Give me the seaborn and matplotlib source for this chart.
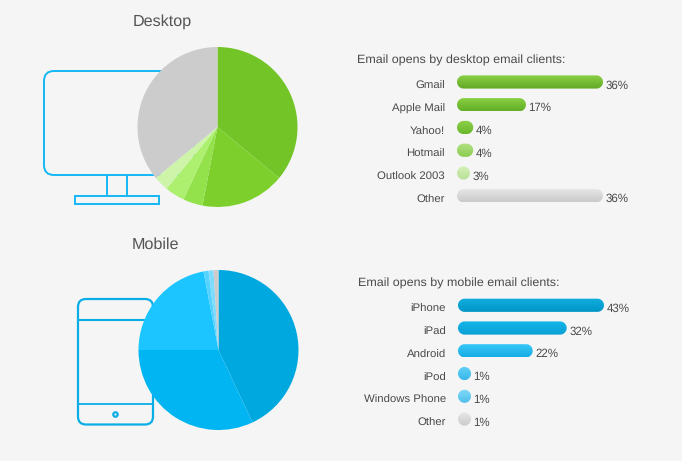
import numpy as np
import pandas as pd
import matplotlib
matplotlib.use("Agg")
import matplotlib.pyplot as plt
from matplotlib.colors import LinearSegmentedColormap
from matplotlib.patches import FancyBboxPatch, Rectangle, Circle, PathPatch
from matplotlib.path import Path
from matplotlib.transforms import ScaledTranslation
import seaborn as sns

W, H = 682, 461
BG = "#f5f5f5"
TEXT = "#4a4a4a"

# data
desktop_clients = ["Gmail", "Apple Mail", "Yahoo!", "Hotmail", "Outlook 2003", "Other"]
desktop_share = [36, 17, 4, 4, 3, 36]
mobile_clients = ["iPhone", "iPad", "Android", "iPod", "Windows Phone", "Other"]
mobile_share = [43, 32, 22, 1, 1, 1]

# colours
desktop_pie = ["#72c427", "#7dd02c", "#93e24c", "#adf070", "#cdf4a8", "#cccccc"]
mobile_pie = ["#00a8e0", "#00b5f1", "#1cc5ff", "#55d2ff", "#7fdcff", "#cccccc"]
desktop_grad = [("#8ad046", "#62a824"), ("#8ad244", "#64ae26"), ("#8ed14a", "#6ab82c"),
                ("#b2e284", "#8ccb50"), ("#d4f0b6", "#b8e098"), ("#e8e8e8", "#cacaca")]
mobile_grad = [("#12aee0", "#0096c6"), ("#14b6ea", "#0a9fd4"), ("#3acaf9", "#18ace5"),
               ("#62d1f8", "#38b8e8"), ("#82d9f8", "#50c0ec"), ("#e8e8e8", "#cacaca")]

sns.set_theme(style="white", rc={"figure.facecolor": BG, "axes.facecolor": "none"})
plt.rcParams["font.family"] = ["Liberation Sans", "DejaVu Sans"]
plt.rcParams["text.hinting"] = "no_hinting"

fig = plt.figure(figsize=(W / 100, H / 100), dpi=100)


def px_axes(left, top, width, height, **kw):
    return fig.add_axes([left / W, 1 - (top + height) / H, width / W, height / H], **kw)


# overlay in pixel coordinates for the icons, titles and bar shapes
bg = px_axes(0, 0, W, H)
bg.set_xlim(0, W)
bg.set_ylim(H, 0)
bg.axis("off")


def pill_path(x0, y0, x1, y1):
    # stadium outline with true circular ends
    r = (y1 - y0) / 2
    cy = (y0 + y1) / 2
    t = np.linspace(-np.pi / 2, np.pi / 2, 24)
    right = np.c_[x1 - r + r * np.cos(t), cy + r * np.sin(t)]
    left = np.c_[x0 + r - r * np.cos(t), cy - r * np.sin(t)]
    return Path(np.r_[right, left, right[:1]], closed=True)


def draw_monitor():
    c = "#14b8f4"
    bg.add_patch(FancyBboxPatch((44, 71), 150, 104, boxstyle="round,pad=0,rounding_size=10",
                                fc="none", ec=c, lw=1.4))
    bg.plot([107, 107], [175, 196], color=c, lw=1.4)
    bg.plot([127, 127], [175, 196], color=c, lw=1.4)
    bg.add_patch(Rectangle((75, 196), 84, 8, fc="none", ec=c, lw=1.4))


def draw_phone():
    c = "#0aaee6"
    bg.add_patch(FancyBboxPatch((78, 299), 75, 125.5, boxstyle="round,pad=0,rounding_size=8",
                                fc="none", ec=c, lw=1.6))
    bg.plot([78, 153], [320, 320], color=c, lw=1.5)
    bg.plot([78, 153], [403.5, 403.5], color=c, lw=1.3)
    bg.add_patch(Circle((115.5, 414.5), 2.2, fc="none", ec=c, lw=1.6))


def draw_pie(cx, cy, r, values, colors):
    ax = px_axes(cx - r, cy - r, 2 * r, 2 * r)
    ax.pie(values, colors=colors, startangle=90, counterclock=False, radius=1,
           wedgeprops={"linewidth": 0})
    ax.set_xlim(-1, 1)
    ax.set_ylim(-1, 1)


def draw_bars(left, top, width, clients, shares, grads, min_w=13):
    row = 22.75
    ax = px_axes(left, top, width, row * 6)
    df = pd.DataFrame({"client": clients, "share": shares})
    sns.barplot(data=df, x="share", y="client", orient="h", ax=ax, width=13.2 / row,
                color="#cccccc", saturation=1)
    ax.set_xlim(0, max(shares))
    ax.set_ylim(5.5, -0.5)
    ax.set_xlabel("")
    ax.set_ylabel("")
    ax.set_xticks([])
    ax.tick_params(axis="y", length=0, pad=8.6, labelsize=8.2, labelcolor=TEXT)
    sns.despine(ax=ax, left=True, bottom=True)
    # labels sit a little under the bar centre in the original
    shift = ScaledTranslation(0, -3 / 100, fig.dpi_scale_trans)
    for lab in ax.get_yticklabels():
        lab.set_transform(lab.get_transform() + shift)

    # swap each bar for a rounded gradient pill of the same size
    to_px = ax.transData + bg.transData.inverted()
    for bar, share, (c_top, c_bot) in zip(ax.patches, shares, grads):
        (x0, y0), (x1, y1) = to_px.transform(
            [(bar.get_x(), bar.get_y()), (bar.get_x() + bar.get_width(), bar.get_y() + bar.get_height())])
        y0, y1 = min(y0, y1), max(y0, y1)
        x1 = max(x1, x0 + min_w)
        bar.set_visible(False)
        pill = PathPatch(pill_path(x0, y0, x1, y1), fc="none", ec="none")
        bg.add_patch(pill)
        cmap = LinearSegmentedColormap.from_list("g", [c_top, c_bot])
        im = bg.imshow(np.linspace(0, 1, 32)[:, None], cmap=cmap, extent=(x0, x1, y1, y0),
                       aspect="auto", zorder=3)
        im.set_clip_path(pill)
        bg.text(x1 + 2.5, (y0 + y1) / 2 + 3.3, f"{share}%", fontsize=8.3, color=TEXT,
                va="center", ha="left", zorder=4)
    bg.set_xlim(0, W)
    bg.set_ylim(H, 0)


draw_monitor()
draw_phone()
draw_pie(217.5, 127, 80, desktop_share, desktop_pie)
draw_pie(218.5, 350, 80, mobile_share, mobile_pie)
draw_bars(457, 70.6, 146, desktop_clients, desktop_share, desktop_grad)
draw_bars(458, 293.9, 146, mobile_clients, mobile_share, mobile_grad)

bg.text(132.5, 22, "Desktop", fontsize=11.6, color="#555555", va="center", ha="left")
bg.text(132, 245, "Mobile", fontsize=11.6, color="#555555", va="center", ha="left")
bg.text(357, 60, "Email opens by desktop email clients:", fontsize=8.97, color=TEXT, va="center", ha="left")
bg.text(358, 283, "Email opens by mobile email clients:", fontsize=8.97, color=TEXT, va="center", ha="left")

fig.savefig("out.png", dpi=100, facecolor=BG)
